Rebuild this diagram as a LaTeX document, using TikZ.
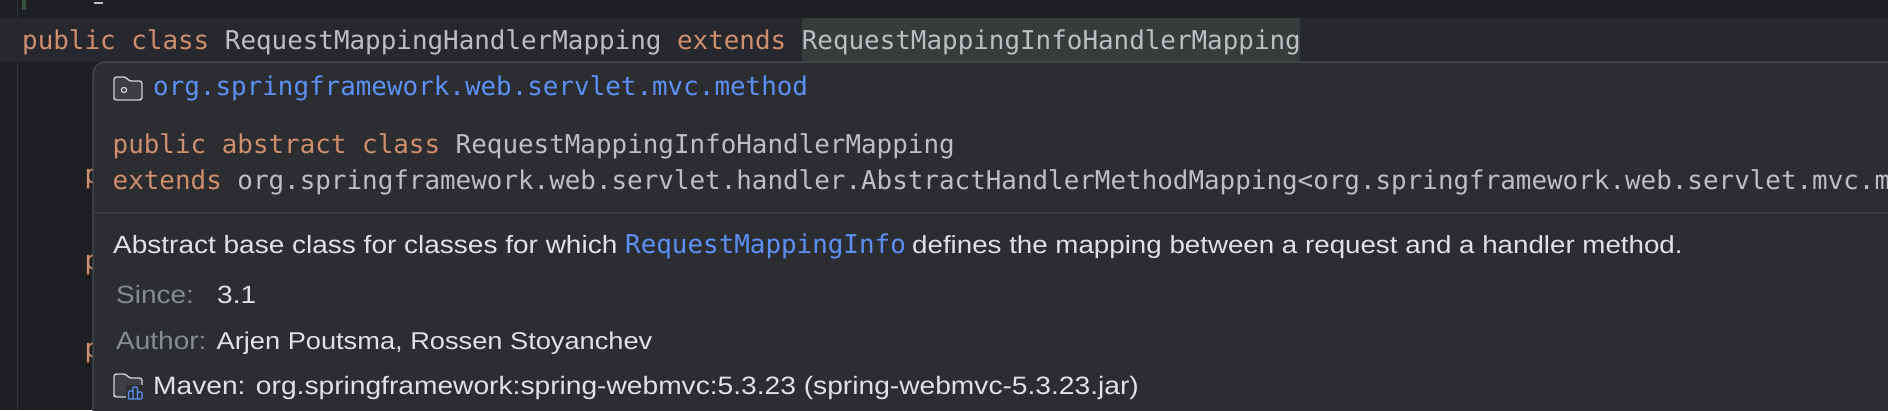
\documentclass[tikz,border=0pt]{standalone}
\usepackage{fontspec}
\setmainfont[FakeStretch=1.12]{Liberation Sans}
\newfontfamily\codefont{DejaVu Sans Mono}

\definecolor{editorbg}{HTML}{1E1F22}
\definecolor{bandbg}{HTML}{26282E}
\definecolor{popupbg}{HTML}{2B2D30}
\definecolor{popupline}{HTML}{43454A}
\definecolor{dividerline}{HTML}{393B40}
\definecolor{markbg}{HTML}{373B39}
\definecolor{keyword}{HTML}{CF8E6D}
\definecolor{codegray}{HTML}{BCBEC4}
\definecolor{linkblue}{HTML}{5C90F5}
\definecolor{dimgray}{HTML}{868A91}
\definecolor{doctext}{HTML}{DFE1E5}
\definecolor{gutterline}{HTML}{313438}
\definecolor{changemark}{HTML}{374F3C}
\definecolor{iconline}{HTML}{CED0D6}
\definecolor{iconfill}{HTML}{3C3E43}

\tikzset{
  code/.style={anchor=base west, inner sep=0pt, text=codegray, font=\codefont\fontsize{25.9}{30}\selectfont},
  doc/.style={anchor=base west, inner sep=0pt, text=doctext, font=\fontsize{#1}{30}\selectfont},
  doc/.default=25,
  dim/.style={doc, text=dimgray},
  foldericon/.pic={
    \draw[iconline, fill=iconfill, line width=1.4pt, rounded corners=2.5pt]
      (0,0) -- (0,-20) -- (12,-20) -- (15,-16) -- (28,-16) -- (28,3) -- (0,3) -- cycle;
  }
}

\begin{document}
\begin{tikzpicture}[x=1pt, y=-1pt]
\useasboundingbox (0,0) rectangle (1888,410);
\clip (0,0) rectangle (1888,410);

% Editor
\fill[editorbg] (0,0) rectangle (1888,410);
\fill[bandbg] (0,18) rectangle (1888,62);
\fill[markbg] (802,18) rectangle (1300,62);
\draw[gutterline, line width=1pt] (17,0) -- (17,18);
\draw[gutterline, line width=1pt] (17,62) -- (17,410);
\fill[changemark] (22,0) rectangle (26,10);
\fill[codegray] (94,2) rectangle (103,4);

\node[code] (decl) at (22,49) {\textcolor{keyword}{public class} RequestMappingHandlerMapping \textcolor{keyword}{extends} RequestMappingInfoHandlerMapping};

% Members hidden by the popup
\node[code, text=keyword] (memberA) at (84.4,183) {p};
\node[code, text=keyword] (memberB) at (84.4,269) {p};
\node[code, text=keyword] (memberC) at (84.4,357) {p};

% Popup
\draw[popupline, fill=popupbg, line width=1.5pt, rounded corners=12pt] (93,430) -- (93,62) -- (1910,62) -- (1910,430);

% Package row
\pic at (114,97) {foldericon};
\draw[iconline, line width=1.2pt] (124,90) circle (2.6);
\node[code, text=linkblue] (package) at (153,95) {org.springframework.web.servlet.mvc.method};

% Signature
\node[code] (signature) at (112.5,153) {\textcolor{keyword}{public abstract class} RequestMappingInfoHandlerMapping};
\node[code] (parent) at (112.5,189) {\textcolor{keyword}{extends} org.springframework.web.servlet.handler.AbstractHandlerMethodMapping<org.springframework.web.servlet.mvc.method};

\draw[dividerline, line width=1.5pt] (94,213) -- (1888,213);

% Description
\node[doc] (descA) at (113,253) {Abstract base class for classes for which};
\node[code, text=linkblue] (descLink) at (625,253) {RequestMappingInfo};
\node[doc=24.75] (descB) at (912,253) {defines the mapping between a request and a handler method.};

% Tags
\node[dim] (sinceKey) at (116,303) {Since:};
\node[doc] (sinceVal) at (217,303) {3.1};
\node[dim] (authorKey) at (116,349) {Author:};
\node[doc=24.3] (authorVal) at (216.5,349) {Arjen Poutsma, Rossen Stoyanchev};

% Library row
\pic at (114,394) {foldericon};
\fill[popupbg] (126,385) rectangle (144,402);
\draw[linkblue, line width=1.3pt, rounded corners=1pt] (128.5,399) -- (128.5,391) -- (133,391) -- (133,399) (133,399) -- (133,387) -- (137.5,387) -- (137.5,399) (137.5,399) -- (137.5,392) -- (142,392) -- (142,399) -- (128.5,399);
\node[doc=25.15] (library) at (153,394) {Maven: org.springframework:spring-webmvc:5.3.23 (spring-webmvc-5.3.23.jar)};
\end{tikzpicture}
\end{document}
